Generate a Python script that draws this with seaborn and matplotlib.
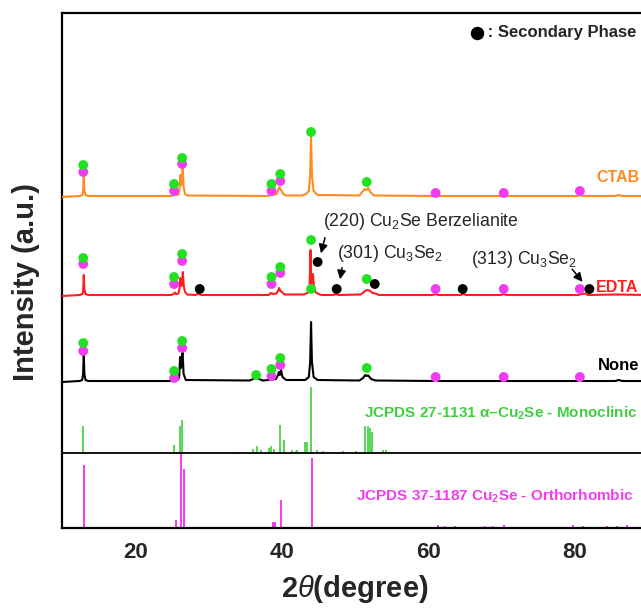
import matplotlib
matplotlib.use("Agg")
import numpy as np
import pandas as pd
import matplotlib.pyplot as plt
import seaborn as sns

# ---------------- data (2theta in degrees, intensity in a.u.) ----------------
samples = ["CTAB", "EDTA", "None"]

none_x = [10, 12.4, 12.75, 12.88, 12.97, 13.06, 13.2, 13.6,
          24.9, 25.25, 25.4, 25.55, 25.8, 26.0, 26.12, 26.25, 26.32, 26.45, 26.6, 26.9,
          35.6, 36.1, 36.5, 36.9, 37.4, 38.2, 38.55, 38.8, 39.2, 39.5, 39.6, 39.75, 39.9, 40.1, 40.6,
          43.2, 43.7, 43.88, 44.0, 44.12, 44.35, 44.9,
          50.6, 51.1, 51.4, 51.6, 51.8, 52.2, 52.8,
          60.6, 61.0, 61.4, 69.9, 70.3, 70.7, 80.3, 80.7, 81.1, 85.5, 86.0, 86.5, 90]
none_y = [0, 1, 2, 8, 27, 8, 2, 1,
          1, 2.5, 4, 2.5, 2, 5, 25, 14, 20, 32, 8, 2,
          1.5, 3, 5, 3, 1.5, 2, 3.5, 2.5, 3, 7, 10, 7, 12, 5, 2,
          2, 5, 20, 60, 20, 5, 2,
          1.5, 4, 7, 6, 6.5, 3, 1.5,
          1, 2.5, 1, 1, 2, 1, 1, 2, 1, 1, 2, 1, 1]

edta_x = [10, 12.4, 12.8, 12.9, 12.97, 13.05, 13.2, 13.6,
          24.9, 25.25, 25.4, 25.55, 25.9, 26.05, 26.15, 26.28, 26.38, 26.5, 26.62, 26.8, 27.1,
          28.2, 28.6, 29.0,
          38.2, 38.55, 38.8, 39.3, 39.65, 39.8, 40.0, 40.4,
          43.0, 43.5, 43.8, 43.92, 44.02, 44.12, 44.25, 44.4, 44.6, 45.0, 45.4,
          47.0, 47.4, 47.8,
          50.8, 51.2, 51.6, 52.0, 52.4, 52.8, 53.3,
          60.6, 61.0, 61.4, 64.4, 64.8, 65.2, 69.9, 70.3, 70.7, 80.5, 80.9, 81.4, 81.8, 85.8, 90]
edta_y = [0, 1, 2, 7, 21, 7, 2, 1,
          1, 2, 3.5, 2, 2.5, 8, 18, 10, 14, 24, 10, 4, 1.5,
          1, 2.5, 1,
          1, 3, 2, 2.5, 8, 5, 4, 1.5,
          1.5, 3, 8, 46, 12, 14, 22, 10, 4, 2, 1,
          1, 2, 1,
          1.5, 4, 6, 5.5, 3, 2.5, 1,
          1, 2, 1, 1, 2, 1, 1, 2, 1, 1, 2, 2.5, 1, 1.5, 1]

ctab_x = [10, 12.4, 12.8, 12.9, 12.97, 13.05, 13.2, 13.6,
          24.9, 25.25, 25.4, 25.55, 25.9, 26.05, 26.15, 26.28, 26.38, 26.48, 26.6, 26.8, 27.1,
          38.2, 38.55, 38.8, 39.3, 39.55, 39.7, 39.85, 40.0, 40.2, 40.6,
          42.8, 43.3, 43.7, 43.88, 44.0, 44.12, 44.35, 44.9,
          50.6, 51.1, 51.35, 51.55, 51.8, 52.1, 52.6,
          60.6, 61.0, 61.4, 69.9, 70.3, 70.7, 80.3, 80.7, 81.1, 85.5, 86.0, 86.5, 90]
ctab_y = [0, 1, 2, 7, 20, 7, 2, 1,
          1, 2, 3, 2, 2.5, 8, 22, 12, 18, 29, 10, 3, 1.5,
          1, 3, 2, 3, 8, 10, 7, 6, 3, 1.5,
          1.5, 3, 6, 22, 60, 22, 6, 2,
          1.5, 6, 8, 7, 9, 5, 1.5,
          1, 2, 1, 1, 2, 1, 1, 2, 1, 1, 2, 1, 1]

# marker positions (2theta, intensity above the sample baseline)
ctab_green_x = [12.9, 25.3, 26.4, 38.6, 39.8, 44.0, 51.6]
ctab_green_y = [32, 13, 39, 13, 23, 65, 15]
ctab_mag_x = [12.9, 25.3, 26.4, 38.6, 39.8, 61.0, 70.3, 80.7]
ctab_mag_y = [25, 6, 33, 6, 16, 4, 4, 6]

edta_green_x = [12.9, 25.3, 26.4, 38.6, 39.8, 44.0, 44.0, 51.6]
edta_green_y = [38, 19, 42, 19, 29, 56, 7, 17]
edta_mag_x = [12.9, 25.3, 26.4, 38.6, 39.8, 61.0, 70.3, 80.7]
edta_mag_y = [32, 12, 35, 12, 23, 7, 7, 7]
edta_black_x = [28.8, 44.9, 47.5, 52.7, 64.7, 82.0]
edta_black_y = [7, 34, 7, 12, 7, 7]

none_green_x = [12.9, 25.3, 26.4, 36.5, 38.6, 39.8, 51.6]
none_green_y = [39, 11, 41, 7, 13, 24, 14]
none_mag_x = [12.9, 25.3, 26.4, 38.6, 39.8, 61.0, 70.3, 80.7]
none_mag_y = [31, 4, 34, 6, 17, 5, 5, 5]

# reference patterns (stick heights)
mono_x = [12.9, 25.3, 26.1, 26.4, 33.2, 33.6, 34.2, 36.1, 36.6, 37.1, 38.2, 38.6, 38.9,
          39.7, 40.3, 41.4, 41.9, 42.1, 43.2, 43.4, 44.0, 44.8, 45.6, 46.6, 48.3, 50.2,
          51.4, 51.8, 52.1, 52.3, 53.8, 54.3, 56.1]
mono_h = [27, 8, 27, 33, 1.5, 1.5, 1.5, 4, 7, 3, 5, 7, 4,
          28, 13, 3, 2, 3, 11, 11, 66, 3, 2, 1.5, 2, 2,
          27, 27, 25, 21, 3, 3, 1]
ortho_x = [12.95, 25.5, 26.3, 26.6, 38.75, 39.05, 39.9, 44.1, 61.3, 62.3, 63.6, 67.7,
           68.8, 70.3, 79.7, 81.1, 84.4, 85.7, 87.1]
ortho_h = [63, 8, 76, 59, 6, 6, 28, 70, 3, 2, 2, 2,
           2, 3, 3, 2, 2, 2, 3]

xticks = [20, 40, 60, 80]

# ---------------- style / layout ----------------
sns.set_theme(style="white")
plt.rcParams["font.family"] = ["Liberation Sans", "DejaVu Sans"]
plt.rcParams["mathtext.fontset"] = "custom"
plt.rcParams["mathtext.rm"] = "Liberation Sans"
plt.rcParams["mathtext.it"] = "Liberation Sans:italic"
plt.rcParams["mathtext.bf"] = "Liberation Sans:bold"

ORANGE = "#FF8A1E"
RED = "#FF1E1E"
GREEN = "#22E022"
STICK_GREEN = "#3ED03E"
MAGENTA = "#F23BF2"
off = {"CTAB": 331, "EDTA": 232, "None": 146}
ref_base = 75

fig = plt.figure(figsize=(6.41, 6.08), dpi=100)
ax = fig.add_axes([62 / 641, 80 / 608, 586 / 641, 515 / 608])

curves = [("CTAB", ctab_x, ctab_y, ORANGE),
          ("EDTA", edta_x, edta_y, RED),
          ("None", none_x, none_y, "black")]
for name, xs, ys, col in curves:
    df = pd.DataFrame({"two_theta": xs, "intensity": np.array(ys) + off[name]})
    sns.lineplot(data=df, x="two_theta", y="intensity", color=col, lw=1.5,
                 estimator=None, sort=False, ax=ax, legend=False, zorder=3)

# reference sticks
ax.vlines(mono_x, ref_base, ref_base + np.array(mono_h), color=STICK_GREEN, lw=1.2, zorder=2)
ax.vlines(ortho_x, 0, np.array(ortho_h), color=MAGENTA, lw=1.4, zorder=2)
ax.axhline(ref_base, color="black", lw=1.3, zorder=4)

# markers
def dots(xs, ys, name, col):
    d = pd.DataFrame({"x": xs, "y": np.array(ys) + off[name]})
    sns.scatterplot(data=d, x="x", y="y", color=col, s=50, edgecolor="none",
                    ax=ax, legend=False, zorder=5)

dots(ctab_mag_x, ctab_mag_y, "CTAB", MAGENTA)
dots(ctab_green_x, ctab_green_y, "CTAB", GREEN)
dots(edta_mag_x, edta_mag_y, "EDTA", MAGENTA)
dots(edta_green_x, edta_green_y, "EDTA", GREEN)
dots(edta_black_x, edta_black_y, "EDTA", "black")
dots(none_mag_x, none_mag_y, "None", MAGENTA)
dots(none_green_x, none_green_y, "None", GREEN)

# sample labels
ax.text(82.9, off["CTAB"] + 20, "CTAB", color=ORANGE, fontsize=11.5, fontweight="bold", va="center")
ax.text(82.9, off["EDTA"] + 9, "EDTA", color=RED, fontsize=11.5, fontweight="bold", va="center")
ax.text(83.1, off["None"] + 17, "None", color="black", fontsize=12, fontweight="bold", va="center")

# reference labels
ax.text(51.2, 115, r"JCPDS 27-1131 $\mathbf{\alpha}$–Cu$_\mathbf{2}$Se - Monoclinic",
        color=STICK_GREEN, fontsize=11, fontweight="bold", va="center")
ax.text(50.2, 32, r"JCPDS 37-1187 Cu$_\mathbf{2}$Se - Orthorhombic",
        color=MAGENTA, fontsize=11, fontweight="bold", va="center")

# secondary phase legend
ax.scatter([66.6], [495], s=75, color="black", zorder=5)
ax.text(67.5, 495, " : Secondary Phase", fontsize=12, fontweight="bold", va="center")

# annotations
arr = dict(arrowstyle="-|>", color="black", lw=1.1, mutation_scale=13)
ax.text(45.6, 306, "(220) Cu$_2$Se Berzelianite", fontsize=12.7, va="center")
ax.annotate("", xy=(45.25, 528 - 256), xytext=(46.0, 528 - 235), arrowprops=arr)
ax.text(47.5, 275, "(301) Cu$_3$Se$_2$", fontsize=12.7, va="center")
ax.annotate("", xy=(47.9, 528 - 282), xytext=(48.3, 528 - 265), arrowprops=arr)
ax.text(65.8, 268, "(313) Cu$_3$Se$_2$", fontsize=12.7, va="center")
ax.annotate("", xy=(81.3, 528 - 284), xytext=(79.4, 528 - 267), arrowprops=arr)

# axes
ax.set_xlim(10, 90)
ax.set_ylim(0, 515)
ax.set_xticks(xticks)
ax.set_xticklabels([str(t) for t in xticks], fontsize=16, fontweight="bold")
ax.set_yticks([])
ax.tick_params(axis="x", length=0, pad=10)
ax.set_xlabel(r"2$\mathit{\theta}$(degree)", fontsize=21, fontweight="bold", labelpad=7)
ax.set_ylabel("Intensity (a.u.)", fontsize=21, fontweight="bold")
ax.yaxis.set_label_coords(-0.038, 0.477)
for sp in ax.spines.values():
    sp.set_color("black")
    sp.set_linewidth(1.6)

fig.savefig("out.png", dpi=100)
